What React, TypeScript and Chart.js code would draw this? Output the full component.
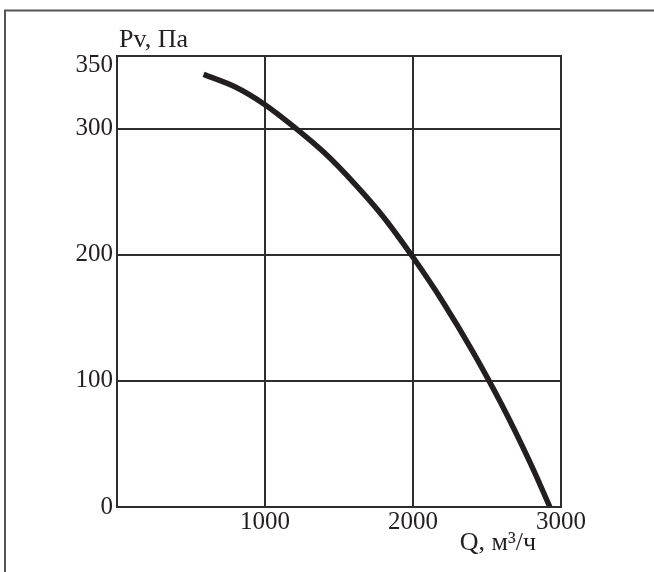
import React, { useEffect, useRef } from "react";
import { Chart, registerables } from "chart.js";

Chart.register(...registerables);

const flow = [585, 800, 1000, 1200, 1400, 1600, 1800, 2000, 2200, 2400, 2600, 2800, 2925];
const pressure = [343, 333, 319, 301, 281, 257, 230, 198, 163, 124, 81, 33, 0];
const xTicks = [0, 1000, 2000, 3000];
const yTicks = [0, 100, 200, 300, 350];
const yTitle = "Pv, Па";
const xTitle = "Q, м³/ч";

const FONT = "'Liberation Serif', 'Times New Roman', serif";
const INK = "#231f20";
const GRID = "#2e2e2e";

const decor = {
  id: "decor",
  afterDraw(chart: any) {
    const { ctx, chartArea } = chart;
    ctx.save();
    // outer frame
    ctx.strokeStyle = "#555";
    ctx.lineWidth = 2;
    ctx.beginPath();
    ctx.moveTo(5, 572);
    ctx.lineTo(5, 10.5);
    ctx.lineTo(654, 10.5);
    ctx.stroke();
    // plot frame
    ctx.strokeStyle = GRID;
    ctx.lineWidth = 2;
    ctx.strokeRect(chartArea.left, chartArea.top, chartArea.right - chartArea.left, chartArea.bottom - chartArea.top);
    // titles
    ctx.fillStyle = INK;
    ctx.textBaseline = "middle";
    ctx.font = `26px ${FONT}`;
    ctx.textAlign = "left";
    ctx.fillText(yTitle, chartArea.left + 2, chartArea.top - 16);
    ctx.textAlign = "center";
    ctx.fillText(xTitle, 498, chartArea.bottom + 36);
    ctx.restore();
  },
};

export default function App() {
  const ref = useRef<HTMLCanvasElement>(null);
  useEffect(() => {
    if (!ref.current) return;
    const chart = new Chart(ref.current, {
      type: "line",
      data: {
        datasets: [
          {
            data: flow.map((q, i) => ({ x: q, y: pressure[i] })),
            borderColor: INK,
            borderWidth: 5.5,
            pointRadius: 0,
            cubicInterpolationMode: "monotone",
            fill: false,
          },
        ],
      },
      options: {
        animation: false,
        responsive: false,
        devicePixelRatio: 1,
        layout: { padding: { top: 56, right: 93, left: 0, bottom: 0 } },
        plugins: { legend: { display: false }, tooltip: { enabled: false } },
        scales: {
          x: {
            type: "linear",
            min: 0,
            max: 3000,
            afterBuildTicks: (s: any) => {
              s.ticks = xTicks.map((v) => ({ value: v }));
            },
            afterFit: (s: any) => {
              s.height = 65;
            },
            grid: { color: GRID, lineWidth: 2, drawTicks: false },
            border: { color: GRID, width: 2 },
            ticks: {
              padding: 3,
              color: INK,
              font: { family: FONT, size: 25, lineHeight: 1 },
              maxRotation: 0,
              callback: (v: any) => (v === 0 ? "" : String(v)),
            },
          },
          y: {
            type: "linear",
            min: 0,
            max: 357.6,
            afterBuildTicks: (s: any) => {
              s.ticks = yTicks.map((v) => ({ value: v }));
            },
            afterFit: (s: any) => {
              s.width = 117;
            },
            grid: {
              color: (c: any) => (c.tick && c.tick.value === 350 ? "rgba(0,0,0,0)" : GRID),
              lineWidth: 2,
              drawTicks: false,
            },
            border: { color: GRID, width: 2 },
            ticks: {
              padding: 4,
              color: INK,
              font: { family: FONT, size: 25, lineHeight: 1 },
              callback: (v: any) => String(v),
            },
          },
        },
      },
      plugins: [decor],
    } as any);
    return () => chart.destroy();
  }, []);
  return (
    <div style={{ position: "fixed", left: 0, top: 0, width: 654, height: 572, background: "#fff" }}>
      <canvas ref={ref} width={654} height={572} style={{ display: "block" }} />
    </div>
  );
}
